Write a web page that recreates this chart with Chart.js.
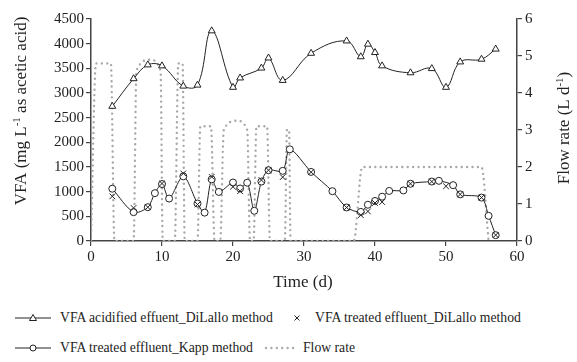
<!DOCTYPE html>
<html>
<head>
<meta charset="utf-8">
<script src="https://cdn.jsdelivr.net/npm/chart.js@4.4.1/dist/chart.umd.min.js"></script>
<style>
  body { margin: 0; background: #fff; }
  #wrap { position: relative; width: 577px; height: 362px; font-family: 'Liberation Serif', 'DejaVu Serif', serif; color: #222; }
  #box { position: absolute; left: 0; top: 0; width: 577px; height: 300px; }
  .lg { position: absolute; font-size: 13.7px; line-height: 16px; white-space: nowrap; }
  .sym { position: absolute; }
</style>
</head>
<body>
<div id="wrap">
  <div id="box"><canvas id="vfaChart"></canvas></div>

  <svg class="sym" style="left:14px;top:310px" width="38" height="16">
    <line x1="1" y1="8" x2="37" y2="8" stroke="#222" stroke-width="1"/>
    <polygon points="19,4.5 22.5,10.5 15.5,10.5" fill="#fff" stroke="#222" stroke-width="1"/>
  </svg>
  <span class="lg" style="left:60px;top:310px">VFA acidified effuent_DiLallo method</span>

  <svg class="sym" style="left:290px;top:310px" width="14" height="16">
    <path d="M4.5,5.5 L9.5,10.5 M9.5,5.5 L4.5,10.5" stroke="#222" stroke-width="1"/>
  </svg>
  <span class="lg" style="left:315px;top:310px">VFA treated effluent_DiLallo method</span>

  <svg class="sym" style="left:14px;top:340px" width="38" height="16">
    <line x1="1" y1="8" x2="37" y2="8" stroke="#222" stroke-width="1"/>
    <circle cx="19" cy="8" r="3" fill="#fff" stroke="#222" stroke-width="1"/>
  </svg>
  <span class="lg" style="left:60px;top:340px">VFA treated effluent_Kapp method</span>

  <svg class="sym" style="left:264px;top:340px" width="36" height="16">
    <line x1="2" y1="8" x2="34" y2="8" stroke="#aaa" stroke-width="2.4" stroke-linecap="round" stroke-dasharray="0 5.4"/>
  </svg>
  <span class="lg" style="left:303px;top:340px">Flow rate</span>
</div>

<script>
// VFA measured with DiLallo method (acidified + treated effluent)
const vfaDays = [3, 6, 8, 10, 13, 15, 17, 20, 21, 24, 25, 27, 31, 36, 38, 39, 40, 41, 45, 48, 50, 52, 55, 57];
const acidifiedDiLallo = [2730, 3290, 3570, 3550, 3140, 3160, 4260, 3115, 3305, 3505, 3710, 3255, 3805, 4055, 3735, 3990, 3820, 3550, 3410, 3495, 3115, 3630, 3685, 3890];
const treatedDiLallo = [905, 670, 685, 1165, 1370, 740, 1300, 1100, 1010, 1236, 1435, 1295, 1395, 680, 525, 600, 770, 790, 1160, 1205, 1110, 945, 880, 120];

// VFA treated effluent, Kapp method
const kappDays = [3, 6, 8, 9, 10, 11, 13, 15, 16, 17, 18, 20, 21, 22, 23, 24, 25, 27, 28, 31, 34, 36, 38, 39, 40, 41, 42, 44, 45, 48, 49, 51, 52, 55, 56, 57];
const treatedKapp = [1060, 585, 685, 970, 1155, 860, 1310, 760, 575, 1250, 995, 1185, 1065, 1182, 612, 1205, 1435, 1422, 1858, 1400, 1010, 680, 590, 735, 812, 898, 1015, 1025, 1160, 1205, 1220, 1132, 945, 880, 510, 118];

// Flow rate (L/d)
const flowDays = [0, 0.7, 2.8, 3.3, 6.0, 6.4, 8.3, 9.8, 10.1, 11.8, 12.3, 12.9, 13.2, 15.0, 15.4, 16.9, 17.4, 18.2, 18.7, 20.5, 22.0, 22.4, 22.9, 23.3, 24.8, 25.2, 27.3, 27.6, 27.9, 28.1, 37.0, 38.2, 55.0, 56.0];
const flowRate = [0, 4.8, 4.8, 0, 0, 4.6, 4.9, 4.6, 0, 0, 4.8, 4.8, 0, 0, 3.1, 3.1, 0, 0, 3.0, 3.25, 3.0, 0, 0, 3.1, 3.1, 0, 0, 3.0, 3.0, 0, 0, 2.0, 2.0, 0];

const xTicks = [0, 10, 20, 30, 40, 50, 60];

const serif = "'Liberation Serif', 'DejaVu Serif', serif";
const ink = '#222';
Chart.defaults.font.family = serif;

function toPoints(xs, ys) {
    return xs.map((x, i) => ({ x: x, y: ys[i] }));
}

// rotated axis title with superscript part
function drawRotated(ctx, x, y, parts) {
    ctx.save();
    ctx.translate(x, y);
    ctx.rotate(-Math.PI / 2);
    ctx.fillStyle = ink;
    ctx.textBaseline = 'middle';
    ctx.textAlign = 'left';
    let total = 0;
    parts.forEach(p => {
        ctx.font = (p[1] ? '11px ' : '17px ') + serif;
        total += ctx.measureText(p[0]).width;
    });
    let cx = -total / 2;
    parts.forEach(p => {
        ctx.font = (p[1] ? '11px ' : '17px ') + serif;
        ctx.fillText(p[0], cx, p[1] ? -5 : 0);
        cx += ctx.measureText(p[0]).width;
    });
    ctx.restore();
}

const titlePlugin = {
    id: 'titlePlugin',
    afterDraw(chart) {
        const ctx = chart.ctx;
        drawRotated(ctx, 22, 111, [['VFA (mg L'], ['-1', true], [' as acetic acid)']]);
        drawRotated(ctx, 565, 128, [['Flow rate (L d'], ['-1', true], [')']]);
        ctx.save();
        ctx.font = '17px ' + serif;
        ctx.fillStyle = ink;
        ctx.textAlign = 'center';
        ctx.textBaseline = 'middle';
        ctx.fillText('Time (d)', 303, 283);
        ctx.restore();
    }
};

const axisGrid = { drawOnChartArea: false, drawTicks: true, tickLength: 5, color: '#444', lineWidth: 1.2 };
const axisBorder = { display: true, color: '#444', width: 1.5 };
const tickFont = { family: serif, size: 15 };
const plain = v => String(v);

const ctx = document.getElementById('vfaChart').getContext('2d');
new Chart(ctx, {
    type: 'scatter',
    data: {
        datasets: [{
            label: 'VFA acidified effuent_DiLallo method',
            data: toPoints(vfaDays, acidifiedDiLallo),
            showLine: true,
            tension: 0.4,
            borderColor: ink,
            borderWidth: 1,
            pointStyle: 'triangle',
            pointRadius: 4,
            pointBackgroundColor: '#fff',
            pointBorderColor: ink,
            pointBorderWidth: 1,
            yAxisID: 'y'
        }, {
            label: 'VFA treated effluent_DiLallo method',
            data: toPoints(vfaDays, treatedDiLallo),
            showLine: false,
            pointStyle: 'crossRot',
            pointRadius: 4,
            pointBorderColor: ink,
            pointBorderWidth: 1,
            yAxisID: 'y'
        }, {
            label: 'VFA treated effluent_Kapp method',
            data: toPoints(kappDays, treatedKapp),
            showLine: true,
            tension: 0.3,
            borderColor: ink,
            borderWidth: 1,
            pointStyle: 'circle',
            pointRadius: 3.5,
            pointBackgroundColor: '#fff',
            pointBorderColor: ink,
            pointBorderWidth: 1,
            yAxisID: 'y'
        }, {
            label: 'Flow rate',
            data: toPoints(flowDays, flowRate),
            showLine: true,
            cubicInterpolationMode: 'monotone',
            borderColor: '#a8a8a8',
            borderWidth: 2.4,
            borderDash: [0, 5.4],
            borderCapStyle: 'round',
            pointRadius: 0,
            yAxisID: 'y1'
        }]
    },
    options: {
        responsive: true,
        maintainAspectRatio: false,
        animation: false,
        layout: { padding: { top: 19, left: 0, right: 0, bottom: 0 } },
        plugins: {
            legend: { display: false },
            tooltip: { enabled: false }
        },
        scales: {
            x: {
                type: 'linear',
                min: 0,
                max: 60,
                afterBuildTicks: s => { s.ticks = xTicks.map(v => ({ value: v })); },
                ticks: { font: tickFont, color: ink, padding: 2, callback: plain },
                grid: axisGrid,
                border: axisBorder,
                afterFit: s => { s.height = 59; }
            },
            y: {
                position: 'left',
                min: 0,
                max: 4500,
                ticks: { stepSize: 500, font: tickFont, color: ink, padding: 2, callback: plain },
                grid: axisGrid,
                border: axisBorder,
                afterFit: s => { s.width = 91; }
            },
            y1: {
                position: 'right',
                min: 0,
                max: 6,
                ticks: { stepSize: 1, font: tickFont, color: ink, padding: 3, callback: plain },
                grid: axisGrid,
                border: axisBorder,
                afterFit: s => { s.width = 60; }
            }
        }
    },
    plugins: [titlePlugin]
});
</script>
</body>
</html>
